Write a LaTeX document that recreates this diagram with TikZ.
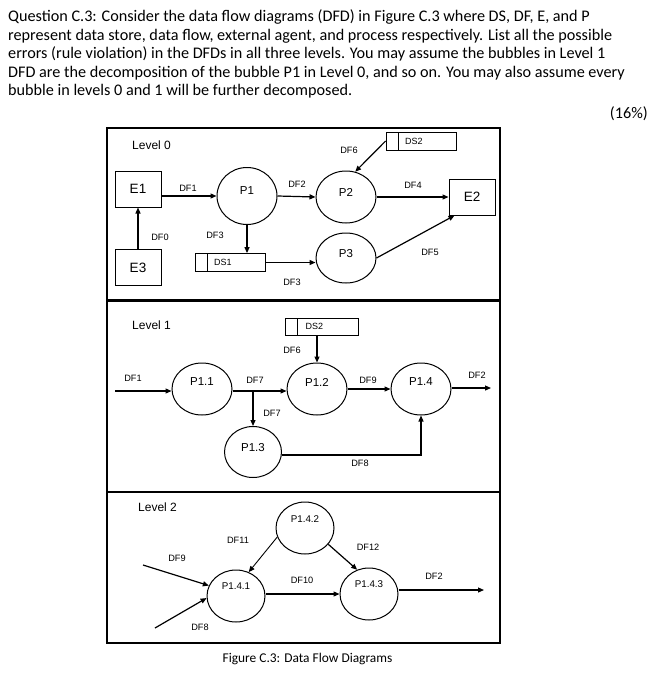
\documentclass[tikz,border=0pt]{standalone}
\usepackage{fontspec}
\setmainfont{Carlito}
\newfontfamily\arialfont{Liberation Sans}
\usetikzlibrary{positioning, calc, arrows.meta, shapes}

\begin{document}
\begin{tikzpicture}[
    x=1pt, y=-1pt,
    frame/.style={draw=black, line width=1.3pt},
    agent/.style={rectangle, draw=black, line width=1pt, minimum width=46pt, minimum height=36pt, font=\arialfont\fontsize{13.5}{14}\selectfont},
    proc/.style={ellipse, draw=black, line width=1pt, minimum width=60pt, minimum height=52pt, inner sep=0pt, text depth=10pt, font=\arialfont\fontsize{11.5}{12}\selectfont},
    store/.style={rectangle, draw=black, line width=0.8pt, minimum width=70pt, minimum height=18pt, inner sep=0pt, text width=32pt, align=left, font=\arialfont\fontsize{9}{10}\selectfont,
        path picture={\draw[line width=0.8pt] ([xshift=12pt]path picture bounding box.north west) -- ([xshift=12pt]path picture bounding box.south west);}},
    flow/.style={inner sep=0pt, font=\arialfont\fontsize{9.2}{10}\selectfont},
    lvl/.style={anchor=west, inner sep=0pt, font=\arialfont\fontsize{12}{13}\selectfont},
    qline/.style={anchor=base west, inner sep=0pt, font=\fontsize{16.2}{18}\selectfont},
    arrow/.style={-{Triangle[length=6pt, width=5pt]}, line width=1.2pt}
]
    \useasboundingbox (0,0) rectangle (666,690);

    % Question
    \node[qline] (q1) at (8,22) {Question C.3: Consider the data flow diagrams (DFD) in Figure C.3 where DS, DF, E, and P};
    \node[qline] (q2) at (8,40.5) {represent data store, data flow, external agent, and process respectively. List all the possible};
    \node[qline] (q3) at (8,59) {errors (rule violation) in the DFDs in all three levels. You may assume the bubbles in Level 1};
    \node[qline] (q4) at (8,77.5) {DFD are the decomposition of the bubble P1 in Level 0, and so on. You may also assume every};
    \node[qline] (q5) at (8,96) {bubble in levels 0 and 1 will be further decomposed.};
    \node[qline, anchor=base east] (marks) at (648,119) {(16\%)};

    % Frames
    \foreach \ya/\yb in {128/300, 301/492, 492/643} {
        \draw[frame] (107,\ya) rectangle (500,\yb);
    }

    % Level 0
    \node[lvl] (lvl0) at (132,145) {Level 0};
    \node[agent] (e1) at (138,189) {E1};
    \node[agent] (e3) at (138,267.5) {E3};
    \node[agent] (e2) at (472,197) {E2};
    \node[proc, minimum height=57pt] (p1) at (247,196) {P1};
    \node[proc] (p2) at (346,197) {P2};
    \node[proc, minimum height=50pt] (p3) at (346,258) {P3};
    \node[store] (ds1) at (230,262.5) {DS1};
    \node[store] (ds2a) at (421,141) {DS2};

    \draw[arrow] (e3) -- (e1);
    \draw[arrow] (e1.east |- p1.west) -- (p1.west);
    \draw[arrow] (p1.east) -- (p2.west);
    \draw[arrow] (ds2a.west) -- (p2.70);
    \draw[arrow] (p2.east) -- (e2.west);
    \draw[arrow] (p1.south) -- (p1.south |- ds1.north);
    \draw[arrow] (ds1.east) -- (ds1.east -| p3.west);
    \draw[arrow] (p3.east) -- ([xshift=6pt]e2.south west);

    \node[flow] (l0-df0) at (160,237) {DF0};
    \node[flow] (l0-df1) at (188,188) {DF1};
    \node[flow] (l0-df2) at (297,184) {DF2};
    \node[flow] (l0-df3a) at (215,235) {DF3};
    \node[flow] (l0-df3b) at (292,282) {DF3};
    \node[flow] (l0-df6) at (349,150) {DF6};
    \node[flow] (l0-df4) at (413,185) {DF4};
    \node[flow] (l0-df5) at (430,252) {DF5};

    % Level 1
    \node[lvl] (lvl1) at (132,325) {Level 1};
    \node[store, minimum width=73pt, minimum height=17pt] (ds2b) at (321.5,326.5) {DS2};
    \node[proc, text depth=14pt] (p11) at (202,389) {P1.1};
    \node[proc, text depth=14pt] (p12) at (317,389) {P1.2};
    \node[proc, text depth=10pt, minimum width=57pt, minimum height=51pt] (p13) at (253,452) {P1.3};
    \node[proc, text depth=14pt] (p14) at (421,389) {P1.4};
    \coordinate (in1) at (115,391);
    \coordinate (split) at (253,391);
    \coordinate (out1) at (491,388);

    \draw[arrow] (in1) -- (in1 -| p11.west);
    \draw[arrow] (p11.east |- split) -- (split -| p12.west);
    \draw[arrow] (split) -- (p13.north);
    \draw[arrow] (p12.north |- ds2b.south) -- (p12.north);
    \draw[arrow] (p12.east) -- (p14.west);
    \draw[arrow] (p14.east |- out1) -- (out1);
    \draw[arrow] (p13.east |- 0,455) -- (p14.south |- 0,455) -- (p14.south);

    \node[flow] (l1-df1) at (133,378) {DF1};
    \node[flow] (l1-df7a) at (255,380) {DF7};
    \node[flow] (l1-df7b) at (272,413) {DF7};
    \node[flow] (l1-df6) at (292,350) {DF6};
    \node[flow] (l1-df9) at (368,380) {DF9};
    \node[flow] (l1-df8) at (360,463) {DF8};
    \node[flow] (l1-df2) at (477,375) {DF2};

    % Level 2
    \node[lvl] (lvl2) at (138,507) {Level 2};
    \node[proc, text depth=18pt, minimum width=58pt, font=\arialfont\fontsize{9.8}{11}\selectfont] (p142) at (305,528) {P1.4.2};
    \node[proc, text depth=20pt, minimum width=58pt, font=\arialfont\fontsize{9.8}{11}\selectfont] (p141) at (236,596) {P1.4.1};
    \node[proc, text depth=20pt, minimum width=58pt, font=\arialfont\fontsize{9.8}{11}\selectfont] (p143) at (369,594) {P1.4.3};
    \coordinate (in9) at (143,565);
    \coordinate (in8) at (155,628);
    \coordinate (out2) at (484,590);

    \draw[arrow, line width=0.9pt] (p142.198) -- (p141.62);
    \draw[arrow] (p142.325) -- (p143.116);
    \draw[arrow] (p141.east |- p143.west) -- (p143.west);
    \draw[arrow] (p143.east |- out2) -- (out2);
    \draw[arrow] (in9) -- (p141.159);
    \draw[arrow] (in8) -- (p141.184);

    \node[flow] (l2-df11) at (238,540) {DF11};
    \node[flow] (l2-df12) at (368,547) {DF12};
    \node[flow] (l2-df10) at (302,580) {DF10};
    \node[flow] (l2-df2) at (434,576) {DF2};
    \node[flow] (l2-df9) at (177,558) {DF9};
    \node[flow] (l2-df8) at (200,627) {DF8};

    % Caption
    \node[anchor=base, inner sep=0pt, font=\fontsize{13.4}{15}\selectfont] (caption) at (307.5,662) {Figure C.3: Data Flow Diagrams};

\end{tikzpicture}
\end{document}
